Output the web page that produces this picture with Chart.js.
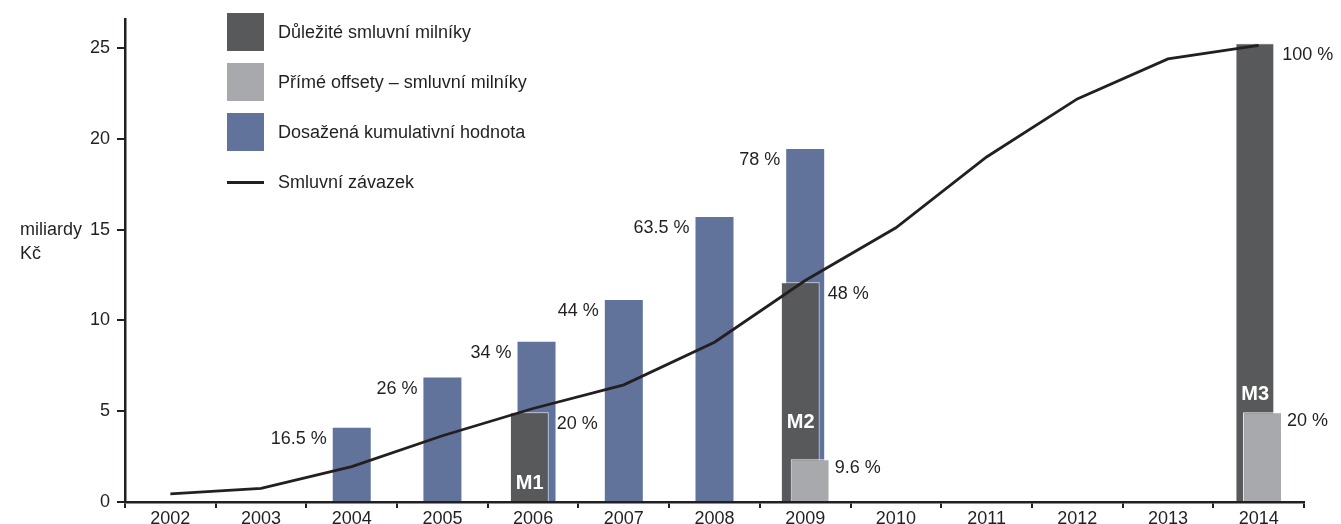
<!DOCTYPE html>
<html>
<head>
<meta charset="utf-8">
<script src="https://cdn.jsdelivr.net/npm/chart.js@4"></script>
<style>
  body { margin: 0; background: #fff; }
  #wrap { position: relative; width: 1341px; height: 524px; }
  #legend { position: absolute; left: 227px; top: 13px; font: 18px 'Liberation Sans', Arial, sans-serif; color: #231f20; }
  .item { display: flex; align-items: center; height: 38px; margin-bottom: 12px; }
  .box { width: 37px; height: 38px; margin-right: 14px; }
  .line { width: 37px; height: 3px; margin-right: 14px; background: #231f20; }
</style>
</head>
<body>
<div id="wrap">
  <canvas id="offsetChart" width="1341" height="524"></canvas>
  <div id="legend"></div>
</div>
<script>
// data, in miliardy Kč
const years = ['2002', '2003', '2004', '2005', '2006', '2007', '2008', '2009', '2010', '2011', '2012', '2013', '2014'];
const milestones = [null, null, null, null, 4.94, null, null, 12.1, null, null, null, null, 25.26];
const directOffsets = [null, null, null, null, null, null, null, 2.35, null, null, null, null, 4.94];
const achieved = [null, null, 4.09, 6.85, 8.83, 11.12, 15.7, 19.44, null, null, null, null, null];
const commitment = [0.45, 0.75, 1.95, 3.65, 5.15, 6.45, 8.8, 12.2, 15.1, 19.0, 22.2, 24.4, 25.15];

const milestoneLabels = [null, null, null, null, '20 %', null, null, '48 %', null, null, null, null, '100 %'];
const milestoneNames = [null, null, null, null, 'M1', null, null, 'M2', null, null, null, null, 'M3'];
const offsetLabels = [null, null, null, null, null, null, null, '9.6 %', null, null, null, null, '20 %'];
const achievedLabels = [null, null, '16.5 %', '26 %', '34 %', '44 %', '63.5 %', '78 %', null, null, null, null, null];
const yTicks = [0, 5, 10, 15, 20, 25];

const INK = '#231f20';
const FONT = "'Liberation Sans', Arial, sans-serif";

Chart.defaults.font.family = FONT;
Chart.defaults.font.size = 18;
Chart.defaults.color = INK;

// where the M1..M3 names sit inside the dark bars (value units)
const namePos = { 4: 1.0, 7: 4.4, 12: 5.9 };

// bars: blue at the back, dark over it, light on top, line last
const drawOrder = [2, 0, 1, 3];

const drawOrderPlugin = {
  id: 'drawOrder',
  beforeDatasetsDraw(chart) {
    drawOrder.forEach(i => chart.getDatasetMeta(i).controller.draw());
    return false;
  }
};

const labelPlugin = {
  id: 'barLabels',
  afterDraw(chart) {
    const ctx = chart.ctx;
    const y = chart.scales.y;
    ctx.save();
    ctx.fillStyle = INK;
    ctx.font = '18px ' + FONT;
    ctx.textBaseline = 'middle';

    // percentages left of the blue bars
    ctx.textAlign = 'right';
    chart.getDatasetMeta(2).data.forEach((bar, i) => {
      if (!achievedLabels[i]) return;
      ctx.fillText(achievedLabels[i], bar.x - bar.width / 2 - 6, bar.y + 11);
    });

    // percentages right of the dark and light bars
    ctx.textAlign = 'left';
    chart.getDatasetMeta(0).data.forEach((bar, i) => {
      if (!milestoneLabels[i]) return;
      ctx.fillText(milestoneLabels[i], bar.x + bar.width / 2 + 8, bar.y + 12);
    });
    chart.getDatasetMeta(1).data.forEach((bar, i) => {
      if (!offsetLabels[i]) return;
      ctx.fillText(offsetLabels[i], bar.x + bar.width / 2 + 6, bar.y + 9);
    });

    // milestone names inside the dark bars
    ctx.fillStyle = '#fff';
    ctx.font = 'bold 20px ' + FONT;
    ctx.textAlign = 'center';
    chart.getDatasetMeta(0).data.forEach((bar, i) => {
      if (!milestoneNames[i]) return;
      ctx.fillText(milestoneNames[i], bar.x, y.getPixelForValue(namePos[i]));
    });

    // unit next to the 15 tick
    ctx.fillStyle = INK;
    ctx.font = '18px ' + FONT;
    ctx.textAlign = 'left';
    const y15 = y.getPixelForValue(15);
    ctx.fillText('miliardy', 20, y15);
    ctx.fillText('Kč', 20, y15 + 24);
    ctx.restore();
  }
};

const chart = new Chart(document.getElementById('offsetChart').getContext('2d'), {
  type: 'bar',
  data: {
    labels: years,
    datasets: [
      {
        label: 'Důležité smluvní milníky',
        data: milestones,
        backgroundColor: '#58595b',
        borderColor: '#ececec',
        borderWidth: { top: 1, right: 1, left: 0, bottom: 0 },
        borderSkipped: false,
        order: 1
      },
      {
        label: 'Přímé offsety – smluvní milníky',
        data: directOffsets,
        backgroundColor: '#a7a9ac',
        borderColor: '#f4f4f4',
        borderWidth: { top: 1, left: 1, right: 0, bottom: 0 },
        borderSkipped: false,
        order: 3
      },
      {
        label: 'Dosažená kumulativní hodnota',
        data: achieved,
        backgroundColor: '#61729b',
        order: 2
      },
      {
        type: 'line',
        label: 'Smluvní závazek',
        data: commitment,
        borderColor: INK,
        borderWidth: 2.8,
        pointRadius: 0,
        tension: 0,
        fill: false,
        order: 0
      }
    ]
  },
  options: {
    responsive: false,
    animation: false,
    events: [],
    categoryPercentage: 0.15,
    barPercentage: 10,
    maxBarThickness: 38,
    skipNull: true,
    layout: { padding: { top: 19, right: 37, left: 0, bottom: 0 } },
    plugins: {
      legend: { display: false },
      tooltip: { enabled: false }
    },
    scales: {
      x: {
        offset: true,
        grid: { offset: true, drawOnChartArea: false, drawTicks: true, tickLength: 6, color: INK, lineWidth: 2 },
        border: { display: true, color: INK, width: 2.5 },
        ticks: { padding: 0, maxRotation: 0, autoSkip: false, color: INK },
        afterFit(scale) { scale.height = 22; }
      },
      y: {
        min: 0,
        max: 26.6,
        stacked: false,
        grid: { drawOnChartArea: false, drawTicks: true, tickLength: 8, color: INK, lineWidth: 2 },
        border: { display: true, color: INK, width: 2.5 },
        ticks: { padding: 7, color: INK },
        afterBuildTicks(scale) { scale.ticks = yTicks.map(v => ({ value: v })); },
        afterFit(scale) { scale.width = 125; }
      }
    }
  },
  plugins: [drawOrderPlugin, labelPlugin]
});

// legend in the order of the datasets
const legend = document.getElementById('legend');
chart.data.datasets.forEach(ds => {
  const item = document.createElement('div');
  item.className = 'item';
  const mark = document.createElement('div');
  if (ds.type === 'line') {
    mark.className = 'line';
  } else {
    mark.className = 'box';
    mark.style.background = ds.backgroundColor;
  }
  item.appendChild(mark);
  item.appendChild(document.createTextNode(ds.label));
  legend.appendChild(item);
});
</script>
</body>
</html>
